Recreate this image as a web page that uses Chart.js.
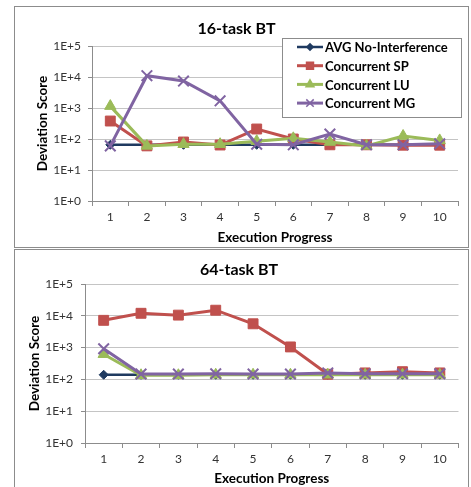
<!DOCTYPE html>
<html>
<head>
<meta charset="utf-8">
<script src="https://cdn.jsdelivr.net/npm/chart.js@4/dist/chart.umd.min.js"></script>
<style>
    html, body { margin: 0; padding: 0; background: #fff; overflow: hidden; }
    .panel { position: absolute; left: 14px; width: 453px; border: 1px solid #8c8c8c; background: #fff; }
    #panel16 { top: 6px; height: 240px; }
    #panel64 { top: 249px; height: 239px; }
    canvas { display: block; }
</style>
</head>
<body>
<div class="panel" id="panel16"><canvas id="chart16" width="453" height="240"></canvas></div>
<div class="panel" id="panel64"><canvas id="chart64" width="453" height="239"></canvas></div>
<script>
// execution progress steps and y tick values (log axis)
const steps = ['1', '2', '3', '4', '5', '6', '7', '8', '9', '10'];
const yTickValues = [1, 10, 100, 1000, 10000, 100000];
const seriesNames = ['AVG No-Interference', 'Concurrent SP', 'Concurrent LU', 'Concurrent MG'];

// 16-task BT
const avg16 = [65, 65, 65, 65, 65, 65, 65, 65, 65, 65];
const sp16 = [380, 60, 80, 64, 210, 100, 65, 65, 63, 63];
const lu16 = [1150, 60, 68, 68, 85, 105, 80, 60, 125, 90];
const mg16 = [60, 11000, 7400, 1700, 68, 65, 145, 65, 65, 70];

// 64-task BT
const avg64 = [140, 140, 140, 140, 140, 140, 140, 140, 140, 140];
const sp64 = [7200, 12000, 10500, 15000, 5600, 1050, 145, 160, 175, 160];
const lu64 = [620, 135, 135, 140, 140, 140, 140, 140, 140, 140];
const mg64 = [920, 147, 147, 150, 147, 147, 160, 150, 150, 150];

const lineStyles = [
    { color: '#1f3a60', point: 'rectRot', radius: 4.5, width: 2.5, order: 4 },
    { color: '#c0504d', point: 'rect', radius: 7, width: 3, order: 3 },
    { color: '#9bbb59', point: 'triangle', radius: 6.5, width: 3, order: 2 },
    { color: '#8064a2', point: 'crossRot', radius: 7.5, width: 3, order: 1 }
];

const FONT = 'Lato, "Open Sans", sans-serif';

// boxed legend drawn inside the plot
const boxLegend = {
    id: 'boxLegend',
    afterDraw(chart, args, opts) {
        if (!opts.show) return;
        const ctx = chart.ctx;
        ctx.save();
        ctx.fillStyle = '#fff';
        ctx.fillRect(opts.x, opts.y, opts.w, opts.h);
        ctx.strokeStyle = '#8c8c8c';
        ctx.lineWidth = 1;
        ctx.strokeRect(opts.x + 0.5, opts.y + 0.5, opts.w, opts.h);
        ctx.font = 'bold 13px ' + FONT;
        ctx.textBaseline = 'middle';
        chart.data.datasets.forEach((ds, i) => {
            let y = opts.y + 9 + i * 18.7;
            ctx.strokeStyle = ds.borderColor;
            ctx.lineWidth = ds.borderWidth;
            ctx.beginPath();
            ctx.moveTo(opts.x + 15, y);
            ctx.lineTo(opts.x + 41, y);
            ctx.stroke();
            ctx.fillStyle = ds.backgroundColor;
            ctx.lineWidth = 1.5;
            Chart.helpers.drawPoint(ctx, { pointStyle: ds.pointStyle, radius: ds.pointRadius * 0.7, borderWidth: 1.5, rotation: 0 }, opts.x + 28, y);
            ctx.fillStyle = '#000';
            ctx.fillText(ds.label, opts.x + 43, y + 1);
        });
        ctx.restore();
    }
};

function makeChart(id, title, values, lay) {
    let datasets = values.map((data, i) => {
        let s = lineStyles[i];
        return {
            label: seriesNames[i],
            data: data,
            borderColor: s.color,
            backgroundColor: s.color,
            borderWidth: s.width,
            pointStyle: s.point,
            pointRadius: s.radius,
            pointBorderWidth: s.point === 'crossRot' ? 2 : 1,
            order: s.order,
            tension: 0
        };
    });

    return new Chart(document.getElementById(id).getContext('2d'), {
        type: 'line',
        data: { labels: steps, datasets: datasets },
        plugins: [boxLegend],
        options: {
            responsive: false,
            animation: false,
            events: [],
            layout: { padding: { left: 0, right: lay.right, top: 0, bottom: 0 } },
            plugins: {
                legend: { display: false },
                tooltip: { enabled: false },
                title: {
                    display: true,
                    text: title,
                    color: '#000',
                    font: { family: FONT, size: 16, weight: 'bold', lineHeight: 1.2 },
                    padding: { top: lay.titleTop, bottom: lay.plotTop - lay.titleTop - 19.2 }
                },
                boxLegend: lay.legend
            },
            scales: {
                x: {
                    type: 'category',
                    offset: true,
                    afterFit: scale => { scale.height = 46; },
                    grid: { drawOnChartArea: false, offset: true, tickLength: 5, color: '#8c8c8c' },
                    border: { color: '#8c8c8c' },
                    ticks: { color: '#333', padding: 4, font: { family: FONT, size: 12 } },
                    title: {
                        display: true,
                        text: 'Execution Progress',
                        color: '#000',
                        font: { family: FONT, size: 13.5, weight: 'bold', lineHeight: 1.2 },
                        padding: { top: 0, bottom: lay.xTitleBottom }
                    }
                },
                y: {
                    type: 'logarithmic',
                    min: 1,
                    max: 100000,
                    afterFit: scale => { scale.width = lay.yWidth; },
                    afterBuildTicks: scale => { scale.ticks = yTickValues.map(v => ({ value: v })); },
                    grid: { color: '#c4c4c4', tickColor: '#8c8c8c', tickLength: 4 },
                    border: { color: '#8c8c8c' },
                    ticks: {
                        color: '#333',
                        padding: lay.yPad,
                        font: { family: FONT, size: 12 },
                        callback: v => '1E+' + Math.round(Math.log10(v))
                    },
                    title: {
                        display: true,
                        text: 'Deviation Score',
                        color: '#000',
                        font: { family: FONT, size: 13.5, weight: 'bold', lineHeight: 1.2 },
                        padding: { top: lay.yTitleTop, bottom: 0 }
                    }
                }
            }
        }
    });
}

makeChart('chart16', '16-task BT', [avg16, sp16, lu16, mg16], {
    right: 10, titleTop: 12, plotTop: 39, xTitleBottom: 1, yWidth: 77, yPad: 7, yTitleTop: 20,
    legend: { show: true, x: 267, y: 31, w: 179, h: 79 }
});

makeChart('chart64', '64-task BT', [avg64, sp64, lu64, mg64], {
    right: 5, titleTop: 10, plotTop: 34, xTitleBottom: 2, yWidth: 70, yPad: 8, yTitleTop: 12,
    legend: { show: false }
});
</script>
</body>
</html>
